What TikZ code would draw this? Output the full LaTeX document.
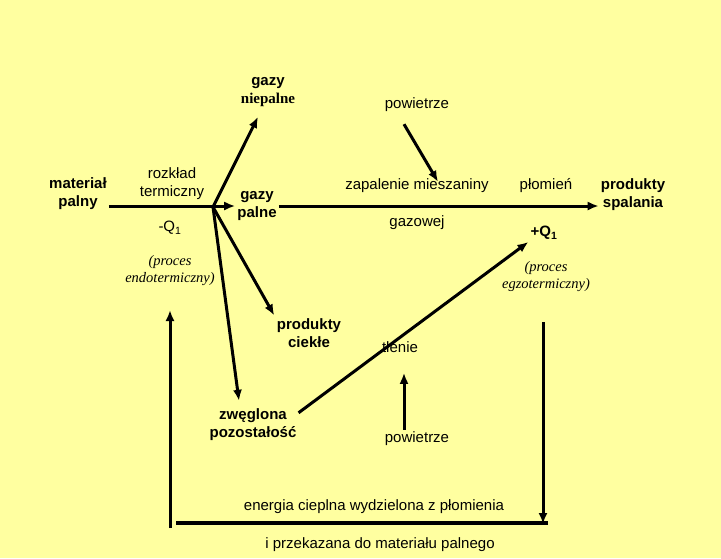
\documentclass[tikz,border=0pt]{standalone}
\usepackage{fontspec}
\setmainfont{Liberation Sans}
\newfontfamily\serifit{Liberation Serif}
\usetikzlibrary{arrows.meta}
\definecolor{bgyellow}{RGB}{255,255,160}

\begin{document}
\begin{tikzpicture}[x=1pt,y=-1pt,
  lbl/.style={align=center,inner sep=2pt,font=\fontsize{15}{18}\selectfont},
  blbl/.style={lbl,font=\fontsize{15}{18}\selectfont\bfseries},
  ilbl/.style={lbl,font=\fontsize{14.5}{17}\selectfont\serifit\itshape},
  arr/.style={line width=3pt,-{Latex[length=11pt,width=9pt]}},
  bar/.style={line width=3.6pt}]
  \fill[bgyellow] (0,0) rectangle (721,558);

  \node[blbl] (mat)  at (78,194)  {materiał\\palny};
  \node[lbl]  (rt)   at (172,184) {rozkład\\termiczny};
  \node[lbl]  (q1m)  at (170,228) {-Q\textsubscript{1}};
  \node[ilbl] (endo) at (170,271) {(proces\\endotermiczny)};
  \node[blbl] (gn)   at (268,92)  {gazy\\{\serifit niepalne}};
  \node[blbl] (gp)   at (257,206) {gazy\\palne};
  \node[lbl]  (pw1)  at (417,105) {powietrze};
  \node[lbl]  (zm)   at (417,186) {zapalenie mieszaniny};
  \node[lbl]  (gz)   at (417,223) {gazowej};
  \node[lbl]  (pl)   at (546,186) {płomień};
  \node[blbl] (ps)   at (633,195) {produkty\\spalania};
  \node[blbl] (q1p)  at (544,233) {+Q\textsubscript{1}};
  \node[ilbl] (eg)   at (546,277) {(proces\\egzotermiczny)};
  \node[blbl] (pc)   at (309,333) {produkty\\ciekłe};
  \node[lbl]  (tn)   at (400,347) {tlenie};
  \node[blbl] (zp)   at (253,425) {zwęglona\\pozostałość};
  \node[lbl]  (pw2)  at (417,439) {powietrze};
  \node[lbl]  (en1)  at (374,507) {energia cieplna wydzielona z płomienia};
  \node[lbl]  (en2)  at (380,545) {i przekazana do materiału palnego};

  \coordinate (J) at (213,207);
  \draw[arr] (mat.east |- gp.west) -- (gp.west);
  \draw[arr] (J) -- ([xshift=-10pt,yshift=-8pt]gn.south);
  \draw[arr,shorten >=1pt] (J) -- (pc.north west);
  \draw[arr] (J) -- ([xshift=-14pt,yshift=6pt]zp.north);
  \draw[arr] (gp.east) -- (gp.east -| ps.west);
  \draw[arr] ([xshift=-13pt,yshift=-10pt]pw1.south) -- ([xshift=21pt,yshift=-5pt]zm.north);
  \draw[arr] (zp.15) -- (q1p.south west);
  \draw[arr] ([xshift=-13pt]pw2.north) -- ++(0,-57);

  \coordinate (hr) at (543,322);
  \coordinate (hb) at (543,524);
  \coordinate (br) at (548,523);
  \coordinate (bl) at (176,523);
  \coordinate (cb) at (170,528);
  \coordinate (ct) at (170,310);
  \draw[arr] (hr) -- (hb);
  \draw[bar] (br) -- (bl);
  \draw[arr] (cb) -- (ct);
\end{tikzpicture}
\end{document}
